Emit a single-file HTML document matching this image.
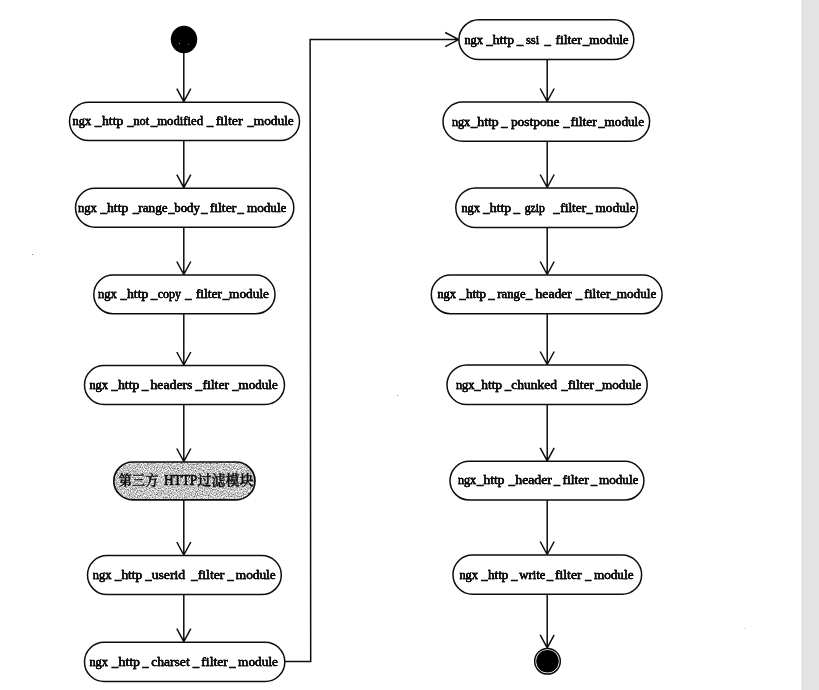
<!DOCTYPE html>
<html lang="zh">
<head>
<meta charset="utf-8">
<title>HTTP filter modules</title>
<style>
html,body{margin:0;padding:0;background:#fff;}
body{width:819px;height:690px;overflow:hidden;position:relative;}
svg{position:absolute;left:0;top:0;display:block;will-change:transform;}
text{font-family:"Liberation Serif","Noto Serif CJK SC",serif;font-size:13px;fill:#0a0a0a;stroke:#0a0a0a;stroke-width:0.32px;}
text.u{stroke-width:0.65px;}
text.c{font-size:14px;font-weight:600;stroke-width:0.3px;}
text.h{font-size:14.2px;stroke-width:0.7px;}
.ln{fill:none;stroke:#0d0d0d;stroke-width:1.5px;stroke-linecap:butt;stroke-linejoin:miter;}
.nd{fill:#fff;stroke:#0d0d0d;stroke-width:1.5px;}
.gr{fill:#bebebe;stroke:none;}
.gro{fill:none;stroke:#0d0d0d;stroke-width:1.7px;}
</style>
</head>
<body>
<svg width="819" height="690" viewBox="0 0 819 690">
<defs>
<filter id="noise" x="0" y="0" width="100%" height="100%" color-interpolation-filters="sRGB">
<feTurbulence type="fractalNoise" baseFrequency="0.85" numOctaves="2" seed="7" result="n"/>
<feColorMatrix in="n" type="matrix" values="1.2 0 0 0 0.17  1.2 0 0 0 0.17  1.2 0 0 0 0.17  0 0 0 0 1" result="g"/>
<feComposite in="g" in2="SourceGraphic" operator="in"/>
</filter>
<filter id="bold" x="-2%" y="-20%" width="104%" height="140%"><feOffset in="SourceGraphic" dx="0.4" dy="0" result="o"/><feMerge><feMergeNode in="SourceGraphic"/><feMergeNode in="o"/></feMerge></filter>
</defs>
<rect x="0" y="0" width="819" height="690" fill="#ffffff"/>
<rect x="802" y="0" width="17" height="690" fill="#e4e4e4"/>
<rect x="801.6" y="0" width="1.2" height="690" fill="#dadada"/>
<path class="ln" d="M183.8 52.0V101.6 M176.8 88.6L183.8 101.6L190.8 88.6"/>
<path class="ln" d="M183.8 140.6V187.7 M176.8 174.7L183.8 187.7L190.8 174.7"/>
<path class="ln" d="M183.8 227.2V274.5 M176.8 261.5L183.8 274.5L190.8 261.5"/>
<path class="ln" d="M183.8 313.8V365.0 M176.8 352.0L183.8 365.0L190.8 352.0"/>
<path class="ln" d="M183.8 404.5V461.5 M176.8 448.5L183.8 461.5L190.8 448.5"/>
<path class="ln" d="M183.8 499.8V555.0 M176.8 542.0L183.8 555.0L190.8 542.0"/>
<path class="ln" d="M183.8 594.6V641.7 M176.8 628.7L183.8 641.7L190.8 628.7"/>
<path class="ln" d="M547.2 59.5V101.5 M540.2 88.5L547.2 101.5L554.2 88.5"/>
<path class="ln" d="M547.2 141.2V187.5 M540.2 174.5L547.2 187.5L554.2 174.5"/>
<path class="ln" d="M547.2 227.5V274.5 M540.2 261.5L547.2 274.5L554.2 261.5"/>
<path class="ln" d="M547.2 313.8V364.5 M540.2 351.5L547.2 364.5L554.2 351.5"/>
<path class="ln" d="M547.2 404.5V460.8 M540.2 447.8L547.2 460.8L554.2 447.8"/>
<path class="ln" d="M547.2 500.0V554.5 M540.2 541.5L547.2 554.5L554.2 541.5"/>
<path class="ln" d="M547.2 594.3V647.9 M540.2 634.9L547.2 647.9L554.2 634.9"/>
<path class="ln" d="M285 661.5H310.7L310.1 39.6H458.4 M445.2 32.5L458.7 39.6L445.2 46.7"/>
<ellipse cx="184" cy="39.5" rx="13.2" ry="13.7" fill="#000"/>
<circle cx="179.4" cy="43.2" r="0.55" fill="#d8d8d8"/><circle cx="188.5" cy="44.3" r="0.45" fill="#c8c8c8"/>
<circle cx="32.5" cy="254.5" r="0.6" fill="#666"/><circle cx="397.6" cy="395.5" r="0.55" fill="#666"/><circle cx="744.8" cy="628.5" r="0.6" fill="#bbb"/>
<circle cx="547.5" cy="661.3" r="12.8" fill="#fff" stroke="#0d0d0d" stroke-width="1.5"/>
<circle cx="547.5" cy="661.3" r="11.25" fill="#000"/>
<rect class="nd" x="69.5" y="102.2" width="230.0" height="38.4" rx="19.2" ry="19.2"/>
<g filter="url(#bold)">
<text x="72.6" y="125.1" textLength="18.6" lengthAdjust="spacingAndGlyphs">ngx</text>
<text class="u" x="94.9" y="125.1" textLength="6.1" lengthAdjust="spacingAndGlyphs">_</text>
<text x="102.0" y="125.1" textLength="21.3" lengthAdjust="spacingAndGlyphs">http</text>
<text class="u" x="127.4" y="125.1" textLength="5.8" lengthAdjust="spacingAndGlyphs">_</text>
<text x="133.4" y="125.1" textLength="15.7" lengthAdjust="spacingAndGlyphs">not</text>
<text class="u" x="150.9" y="125.1" textLength="6.1" lengthAdjust="spacingAndGlyphs">_</text>
<text x="157.2" y="125.1" textLength="45.8" lengthAdjust="spacingAndGlyphs">modified</text>
<text class="u" x="206.9" y="125.1" textLength="6.1" lengthAdjust="spacingAndGlyphs">_</text>
<text x="215.7" y="125.1" textLength="26.8" lengthAdjust="spacingAndGlyphs">filter</text>
<text class="u" x="247.8" y="125.1" textLength="5.8" lengthAdjust="spacingAndGlyphs">_</text>
<text x="253.8" y="125.1" textLength="40.0" lengthAdjust="spacingAndGlyphs">module</text>
</g>
<rect class="nd" x="75.5" y="188.2" width="218.3" height="39.0" rx="19.5" ry="19.5"/>
<g filter="url(#bold)">
<text x="78.0" y="211.7" textLength="18.7" lengthAdjust="spacingAndGlyphs">ngx</text>
<text class="u" x="100.7" y="211.7" textLength="6.1" lengthAdjust="spacingAndGlyphs">_</text>
<text x="107.0" y="211.7" textLength="21.3" lengthAdjust="spacingAndGlyphs">http</text>
<text class="u" x="132.9" y="211.7" textLength="5.8" lengthAdjust="spacingAndGlyphs">_</text>
<text x="138.3" y="211.7" textLength="29.3" lengthAdjust="spacingAndGlyphs">range</text>
<text class="u" x="168.5" y="211.7" textLength="6.1" lengthAdjust="spacingAndGlyphs">_</text>
<text x="174.3" y="211.7" textLength="25.5" lengthAdjust="spacingAndGlyphs">body</text>
<text class="u" x="201.3" y="211.7" textLength="6.1" lengthAdjust="spacingAndGlyphs">_</text>
<text x="209.8" y="211.7" textLength="26.4" lengthAdjust="spacingAndGlyphs">filter</text>
<text class="u" x="237.8" y="211.7" textLength="6.0" lengthAdjust="spacingAndGlyphs">_</text>
<text x="246.9" y="211.7" textLength="39.5" lengthAdjust="spacingAndGlyphs">module</text>
</g>
<rect class="nd" x="93.8" y="275.0" width="181.2" height="38.8" rx="19.4" ry="19.4"/>
<g filter="url(#bold)">
<text x="98.0" y="298.0" textLength="18.7" lengthAdjust="spacingAndGlyphs">ngx</text>
<text class="u" x="120.7" y="298.0" textLength="5.8" lengthAdjust="spacingAndGlyphs">_</text>
<text x="127.0" y="298.0" textLength="21.3" lengthAdjust="spacingAndGlyphs">http</text>
<text class="u" x="151.0" y="298.0" textLength="6.1" lengthAdjust="spacingAndGlyphs">_</text>
<text x="157.7" y="298.0" textLength="23.3" lengthAdjust="spacingAndGlyphs">copy</text>
<text class="u" x="185.2" y="298.0" textLength="6.1" lengthAdjust="spacingAndGlyphs">_</text>
<text x="195.7" y="298.0" textLength="26.4" lengthAdjust="spacingAndGlyphs">filter</text>
<text class="u" x="223.1" y="298.0" textLength="6.1" lengthAdjust="spacingAndGlyphs">_</text>
<text x="229.1" y="298.0" textLength="39.9" lengthAdjust="spacingAndGlyphs">module</text>
</g>
<rect class="nd" x="84.5" y="365.5" width="200.0" height="39.0" rx="19.5" ry="19.5"/>
<g filter="url(#bold)">
<text x="89.4" y="388.9" textLength="18.6" lengthAdjust="spacingAndGlyphs">ngx</text>
<text class="u" x="111.6" y="388.9" textLength="6.1" lengthAdjust="spacingAndGlyphs">_</text>
<text x="117.9" y="388.9" textLength="21.6" lengthAdjust="spacingAndGlyphs">http</text>
<text class="u" x="142.0" y="388.9" textLength="6.1" lengthAdjust="spacingAndGlyphs">_</text>
<text x="150.5" y="388.9" textLength="41.9" lengthAdjust="spacingAndGlyphs">headers</text>
<text class="u" x="195.8" y="388.9" textLength="6.2" lengthAdjust="spacingAndGlyphs">_</text>
<text x="202.5" y="388.9" textLength="26.5" lengthAdjust="spacingAndGlyphs">filter</text>
<text class="u" x="232.6" y="388.9" textLength="6.1" lengthAdjust="spacingAndGlyphs">_</text>
<text x="238.6" y="388.9" textLength="39.1" lengthAdjust="spacingAndGlyphs">module</text>
</g>
<rect class="gr" filter="url(#noise)" x="113.8" y="462.0" width="141.2" height="37.8" rx="18.9" ry="18.9"/>
<rect class="gro" x="113.8" y="462.0" width="141.2" height="37.8" rx="18.9" ry="18.9"/>
<text class="c" x="118.7" y="484.6" textLength="39.8" lengthAdjust="spacingAndGlyphs">第三方</text>
<text class="h" x="163.9" y="484.7" textLength="33.3" lengthAdjust="spacingAndGlyphs">HTTP</text>
<text class="c" x="197.5" y="484.6" textLength="56.0" lengthAdjust="spacingAndGlyphs">过滤模块</text>
<rect class="nd" x="87.5" y="555.5" width="193.8" height="39.1" rx="19.6" ry="19.6"/>
<g filter="url(#bold)">
<text x="92.8" y="578.9" textLength="18.6" lengthAdjust="spacingAndGlyphs">ngx</text>
<text class="u" x="115.1" y="578.9" textLength="6.1" lengthAdjust="spacingAndGlyphs">_</text>
<text x="121.4" y="578.9" textLength="20.9" lengthAdjust="spacingAndGlyphs">http</text>
<text class="u" x="145.4" y="578.9" textLength="6.1" lengthAdjust="spacingAndGlyphs">_</text>
<text x="151.7" y="578.9" textLength="33.4" lengthAdjust="spacingAndGlyphs">userid</text>
<text class="u" x="191.3" y="578.9" textLength="6.1" lengthAdjust="spacingAndGlyphs">_</text>
<text x="197.7" y="578.9" textLength="26.7" lengthAdjust="spacingAndGlyphs">filter</text>
<text class="u" x="227.5" y="578.9" textLength="6.0" lengthAdjust="spacingAndGlyphs">_</text>
<text x="235.8" y="578.9" textLength="39.9" lengthAdjust="spacingAndGlyphs">module</text>
</g>
<rect class="nd" x="84.5" y="642.2" width="200.3" height="39.4" rx="19.7" ry="19.7"/>
<g filter="url(#bold)">
<text x="89.4" y="665.8" textLength="18.6" lengthAdjust="spacingAndGlyphs">ngx</text>
<text class="u" x="112.1" y="665.8" textLength="6.0" lengthAdjust="spacingAndGlyphs">_</text>
<text x="118.5" y="665.8" textLength="21.5" lengthAdjust="spacingAndGlyphs">http</text>
<text class="u" x="142.5" y="665.8" textLength="5.8" lengthAdjust="spacingAndGlyphs">_</text>
<text x="151.2" y="665.8" textLength="38.5" lengthAdjust="spacingAndGlyphs">charset</text>
<text class="u" x="193.1" y="665.8" textLength="6.0" lengthAdjust="spacingAndGlyphs">_</text>
<text x="201.3" y="665.8" textLength="26.6" lengthAdjust="spacingAndGlyphs">filter</text>
<text class="u" x="229.5" y="665.8" textLength="6.0" lengthAdjust="spacingAndGlyphs">_</text>
<text x="238.1" y="665.8" textLength="39.9" lengthAdjust="spacingAndGlyphs">module</text>
</g>
<rect class="nd" x="458.9" y="19.8" width="174.9" height="39.7" rx="19.9" ry="19.9"/>
<g filter="url(#bold)">
<text x="464.4" y="43.8" textLength="18.6" lengthAdjust="spacingAndGlyphs">ngx</text>
<text class="u" x="486.4" y="43.8" textLength="6.1" lengthAdjust="spacingAndGlyphs">_</text>
<text x="492.7" y="43.8" textLength="21.3" lengthAdjust="spacingAndGlyphs">http</text>
<text class="u" x="517.1" y="43.8" textLength="6.0" lengthAdjust="spacingAndGlyphs">_</text>
<text x="525.9" y="43.8" textLength="13.3" lengthAdjust="spacingAndGlyphs">ssi</text>
<text class="u" x="544.7" y="43.8" textLength="6.0" lengthAdjust="spacingAndGlyphs">_</text>
<text x="555.6" y="43.8" textLength="26.2" lengthAdjust="spacingAndGlyphs">filter</text>
<text class="u" x="583.0" y="43.8" textLength="6.1" lengthAdjust="spacingAndGlyphs">_</text>
<text x="589.3" y="43.8" textLength="39.4" lengthAdjust="spacingAndGlyphs">module</text>
</g>
<rect class="nd" x="443.0" y="102.0" width="206.6" height="39.2" rx="19.6" ry="19.6"/>
<g filter="url(#bold)">
<text x="451.9" y="125.6" textLength="18.3" lengthAdjust="spacingAndGlyphs">ngx</text>
<text class="u" x="470.9" y="125.6" textLength="6.1" lengthAdjust="spacingAndGlyphs">_</text>
<text x="477.2" y="125.6" textLength="21.6" lengthAdjust="spacingAndGlyphs">http</text>
<text class="u" x="501.2" y="125.6" textLength="6.1" lengthAdjust="spacingAndGlyphs">_</text>
<text x="510.9" y="125.6" textLength="48.6" lengthAdjust="spacingAndGlyphs">postpone</text>
<text class="u" x="563.4" y="125.6" textLength="6.1" lengthAdjust="spacingAndGlyphs">_</text>
<text x="570.4" y="125.6" textLength="26.4" lengthAdjust="spacingAndGlyphs">filter</text>
<text class="u" x="598.6" y="125.6" textLength="6.1" lengthAdjust="spacingAndGlyphs">_</text>
<text x="604.6" y="125.6" textLength="39.4" lengthAdjust="spacingAndGlyphs">module</text>
</g>
<rect class="nd" x="455.8" y="188.0" width="181.7" height="39.5" rx="19.8" ry="19.8"/>
<g filter="url(#bold)">
<text x="461.4" y="211.7" textLength="18.6" lengthAdjust="spacingAndGlyphs">ngx</text>
<text class="u" x="483.2" y="211.7" textLength="6.1" lengthAdjust="spacingAndGlyphs">_</text>
<text x="489.8" y="211.7" textLength="21.3" lengthAdjust="spacingAndGlyphs">http</text>
<text class="u" x="513.7" y="211.7" textLength="6.1" lengthAdjust="spacingAndGlyphs">_</text>
<text x="524.7" y="211.7" textLength="20.2" lengthAdjust="spacingAndGlyphs">gzip</text>
<text class="u" x="553.6" y="211.7" textLength="6.1" lengthAdjust="spacingAndGlyphs">_</text>
<text x="560.2" y="211.7" textLength="26.1" lengthAdjust="spacingAndGlyphs">filter</text>
<text class="u" x="586.6" y="211.7" textLength="6.1" lengthAdjust="spacingAndGlyphs">_</text>
<text x="595.5" y="211.7" textLength="39.9" lengthAdjust="spacingAndGlyphs">module</text>
</g>
<rect class="nd" x="431.3" y="275.0" width="230.8" height="38.8" rx="19.4" ry="19.4"/>
<g filter="url(#bold)">
<text x="437.4" y="298.0" textLength="18.6" lengthAdjust="spacingAndGlyphs">ngx</text>
<text class="u" x="459.6" y="298.0" textLength="6.1" lengthAdjust="spacingAndGlyphs">_</text>
<text x="465.9" y="298.0" textLength="20.2" lengthAdjust="spacingAndGlyphs">http</text>
<text class="u" x="488.5" y="298.0" textLength="6.1" lengthAdjust="spacingAndGlyphs">_</text>
<text x="497.3" y="298.0" textLength="28.3" lengthAdjust="spacingAndGlyphs">range</text>
<text class="u" x="526.1" y="298.0" textLength="6.1" lengthAdjust="spacingAndGlyphs">_</text>
<text x="535.5" y="298.0" textLength="36.4" lengthAdjust="spacingAndGlyphs">header</text>
<text class="u" x="576.0" y="298.0" textLength="6.0" lengthAdjust="spacingAndGlyphs">_</text>
<text x="584.2" y="298.0" textLength="26.2" lengthAdjust="spacingAndGlyphs">filter</text>
<text class="u" x="610.7" y="298.0" textLength="6.1" lengthAdjust="spacingAndGlyphs">_</text>
<text x="616.7" y="298.0" textLength="39.6" lengthAdjust="spacingAndGlyphs">module</text>
</g>
<rect class="nd" x="447.0" y="365.0" width="200.2" height="39.5" rx="19.8" ry="19.8"/>
<g filter="url(#bold)">
<text x="455.9" y="388.8" textLength="18.6" lengthAdjust="spacingAndGlyphs">ngx</text>
<text class="u" x="474.5" y="388.8" textLength="6.1" lengthAdjust="spacingAndGlyphs">_</text>
<text x="481.2" y="388.8" textLength="20.9" lengthAdjust="spacingAndGlyphs">http</text>
<text class="u" x="505.0" y="388.8" textLength="6.0" lengthAdjust="spacingAndGlyphs">_</text>
<text x="511.2" y="388.8" textLength="45.8" lengthAdjust="spacingAndGlyphs">chunked</text>
<text class="u" x="561.4" y="388.8" textLength="6.1" lengthAdjust="spacingAndGlyphs">_</text>
<text x="567.7" y="388.8" textLength="26.4" lengthAdjust="spacingAndGlyphs">filter</text>
<text class="u" x="596.1" y="388.8" textLength="6.1" lengthAdjust="spacingAndGlyphs">_</text>
<text x="602.1" y="388.8" textLength="39.3" lengthAdjust="spacingAndGlyphs">module</text>
</g>
<rect class="nd" x="450.0" y="461.3" width="193.9" height="38.7" rx="19.3" ry="19.3"/>
<g filter="url(#bold)">
<text x="457.9" y="484.4" textLength="18.3" lengthAdjust="spacingAndGlyphs">ngx</text>
<text class="u" x="476.9" y="484.4" textLength="6.1" lengthAdjust="spacingAndGlyphs">_</text>
<text x="483.5" y="484.4" textLength="21.0" lengthAdjust="spacingAndGlyphs">http</text>
<text class="u" x="508.7" y="484.4" textLength="6.1" lengthAdjust="spacingAndGlyphs">_</text>
<text x="515.3" y="484.4" textLength="36.6" lengthAdjust="spacingAndGlyphs">header</text>
<text class="u" x="553.9" y="484.4" textLength="5.9" lengthAdjust="spacingAndGlyphs">_</text>
<text x="562.5" y="484.4" textLength="26.1" lengthAdjust="spacingAndGlyphs">filter</text>
<text class="u" x="591.0" y="484.4" textLength="6.0" lengthAdjust="spacingAndGlyphs">_</text>
<text x="598.9" y="484.4" textLength="39.5" lengthAdjust="spacingAndGlyphs">module</text>
</g>
<rect class="nd" x="453.0" y="555.0" width="188.6" height="39.3" rx="19.6" ry="19.6"/>
<g filter="url(#bold)">
<text x="459.4" y="578.6" textLength="18.6" lengthAdjust="spacingAndGlyphs">ngx</text>
<text class="u" x="481.6" y="578.6" textLength="6.1" lengthAdjust="spacingAndGlyphs">_</text>
<text x="487.9" y="578.6" textLength="20.6" lengthAdjust="spacingAndGlyphs">http</text>
<text class="u" x="511.2" y="578.6" textLength="6.1" lengthAdjust="spacingAndGlyphs">_</text>
<text x="519.3" y="578.6" textLength="26.0" lengthAdjust="spacingAndGlyphs">write</text>
<text class="u" x="547.1" y="578.6" textLength="6.0" lengthAdjust="spacingAndGlyphs">_</text>
<text x="555.0" y="578.6" textLength="26.5" lengthAdjust="spacingAndGlyphs">filter</text>
<text class="u" x="585.2" y="578.6" textLength="5.8" lengthAdjust="spacingAndGlyphs">_</text>
<text x="593.9" y="578.6" textLength="39.6" lengthAdjust="spacingAndGlyphs">module</text>
</g>
</svg>
</body>
</html>
